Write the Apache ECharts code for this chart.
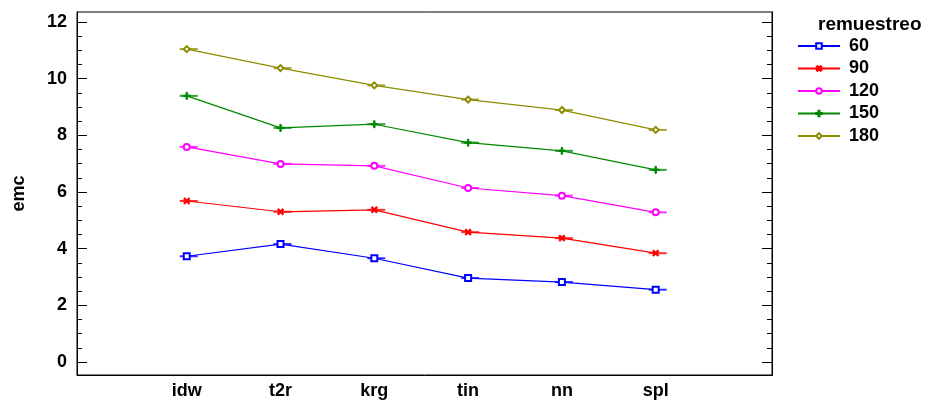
<!DOCTYPE html>
<html>
<head>
<meta charset="utf-8">
<script src="https://cdn.jsdelivr.net/npm/echarts@6/dist/echarts.min.js"></script>
<style>
html,body{margin:0;padding:0;background:#fff;}
#chart{width:928px;height:402px;}
</style>
</head>
<body>
<div id="chart"></div>
<script>
// Interpolation methods on the x axis
const categories = ['idw', 't2r', 'krg', 'tin', 'nn', 'spl'];
// Mean emc per resampling level
const s60  = [3.73, 4.16, 3.66, 2.96, 2.82, 2.55];
const s90  = [5.68, 5.30, 5.37, 4.58, 4.37, 3.84];
const s120 = [7.59, 6.99, 6.92, 6.14, 5.87, 5.28];
const s150 = [9.39, 8.26, 8.39, 7.74, 7.45, 6.78];
const s180 = [11.04, 10.37, 9.76, 9.26, 8.89, 8.19];
const seriesNames = ['60', '90', '120', '150', '180'];
const yTickLabels = [0, 2, 4, 6, 8, 10, 12];

const FONT = 'Liberation Sans, Arial, sans-serif';
const colors = ['#0000ff', '#ff0000', '#ff00ff', '#008800', '#8c8c00'];
const plusPath = 'path://M4,0H6V4H10V6H6V10H4V6H0V4H4Z';
const symbols = ['emptyRect', plusPath, 'emptyCircle', plusPath, 'emptyDiamond'];
const rotations = [0, 45, 0, 0, 0];
const values = [s60, s90, s120, s150, s180];

const yMin = -0.46, yMax = 12.35;
const yMinor = [];
for (let i = 0; i < yTickLabels.length - 1; i++) {
  for (let k = 1; k < 4; k++) yMinor.push(yTickLabels[i] + k * 0.5);
}

const chart = echarts.init(document.getElementById('chart'), null, {renderer: 'canvas'});

function yAxisDef(pos, ticks, len, labels) {
  return {
    type: 'value', position: pos, min: yMin, max: yMax,
    axisLine: {show: true, onZero: false, lineStyle: {color: '#000', width: 1}},
    splitLine: {show: false},
    axisTick: {show: true, inside: true, length: len, customValues: ticks,
               lineStyle: {color: '#000', width: 1}},
    axisLabel: labels ? {
      show: true, customValues: yTickLabels, margin: 10,
      fontFamily: FONT, fontWeight: 'bold', fontSize: 18, color: '#000'
    } : {show: false}
  };
}

const series = [];
values.forEach((vals, i) => {
  // short horizontal bar at each mean
  series.push({
    name: 'bar' + seriesNames[i], type: 'scatter', z: 2,
    symbol: 'rect', symbolSize: [18, 2], symbolOffset: [2, 0],
    itemStyle: {color: colors[i]}, silent: true,
    data: vals.map((v, j) => [j, v])
  });
  series.push({
    name: seriesNames[i], type: 'line', z: 3,
    data: vals.map((v, j) => [j, v]),
    symbol: symbols[i], symbolSize: symbols[i] === plusPath ? 7 : 6,
    symbolRotate: rotations[i], showSymbol: true,
    lineStyle: {color: colors[i], width: 1.2},
    itemStyle: {color: colors[i], borderColor: colors[i], borderWidth: 1},
    emphasis: {disabled: true}, animation: false
  });
});

chart.setOption({
  animation: false,
  backgroundColor: '#fff',
  title: {
    text: 'remuestreo', left: 813, top: 10,
    textStyle: {fontFamily: FONT, fontWeight: 'bold', fontSize: 19, color: '#000'}
  },
  legend: {
    data: seriesNames, orient: 'vertical', left: 792, top: 32,
    itemWidth: 42, itemHeight: 7, itemGap: 4.5,
    textStyle: {fontFamily: FONT, fontWeight: 'bold', fontSize: 18, color: '#000', padding: [0, 0, 0, 4]}
  },
  grid: {left: 77, right: 156, top: 12, bottom: 27, show: true, borderColor: '#000', borderWidth: 1,
         containLabel: false, outerBoundsMode: 'none'},
  xAxis: [{
    type: 'value', min: -1.17, max: 6.24,
    axisLine: {show: true, onZero: false, lineStyle: {color: '#000'}},
    axisTick: {show: false}, splitLine: {show: false},
    axisLabel: {
      customValues: [0, 1, 2, 3, 4, 5], margin: 7,
      formatter: v => categories[Math.round(v)] || '',
      fontFamily: FONT, fontWeight: 'bold', fontSize: 18, color: '#000'
    }
  }],
  yAxis: [
    Object.assign(yAxisDef('left', yTickLabels, 10, true), {
      name: 'emc', nameLocation: 'middle', nameGap: 49, nameRotate: 90,
      nameTextStyle: {fontFamily: FONT, fontWeight: 'bold', fontSize: 18, color: '#000'}
    }),
    yAxisDef('left', yMinor, 5, false),
    yAxisDef('right', yTickLabels, 10, false),
    yAxisDef('right', yMinor, 5, false)
  ],
  series: series
});
</script>
</body>
</html>
